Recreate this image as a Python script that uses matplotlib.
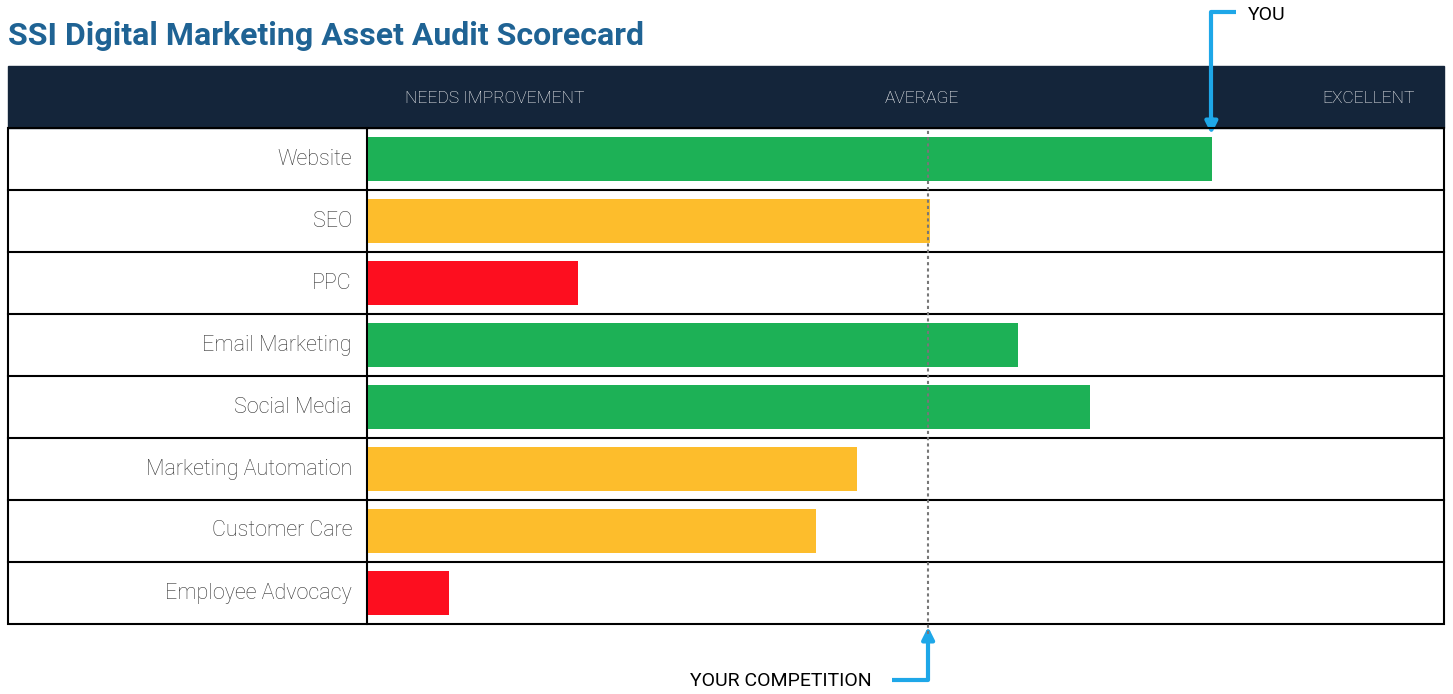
import matplotlib.pyplot as plt
from matplotlib.patches import Rectangle

categories = ["Website", "SEO", "PPC", "Email Marketing", "Social Media",
              "Marketing Automation", "Customer Care", "Employee Advocacy"]
scores = [78.4, 52.2, 19.5, 60.3, 67.0, 45.4, 41.6, 7.5]
average = 52.1
header_labels = ["NEEDS IMPROVEMENT", "AVERAGE", "EXCELLENT"]

GREEN, YELLOW, RED = "#1db156", "#fdbd2c", "#fd0e1f"
BLUE = "#1ea7e8"
NAVY = "#14253a"

def bar_color(v):
    if v >= 55:
        return GREEN
    if v >= 30:
        return YELLOW
    return RED

W, H = 1453, 694
fig = plt.figure(figsize=(W / 100, H / 100), dpi=100)
plt.rcParams["font.family"] = "Roboto"

# overlay in pixel coords for the table frame and annotations
ov = fig.add_axes([0, 0, 1, 1])
ov.set_xlim(0, W)
ov.set_ylim(H, 0)
ov.axis("off")

L, R, T, HB, B, DIV = 8, 1444, 66, 128, 624, 367
row_h = (B - HB) / len(categories)

ov.add_patch(Rectangle((L, T), R - L, HB - T, color=NAVY, zorder=1))
ov.add_patch(Rectangle((L, HB), R - L, B - HB, fill=False, ec="black", lw=1.5, zorder=5))
ov.plot([DIV, DIV], [HB, B], color="black", lw=1.5, zorder=5)
for i, cat in enumerate(categories):
    y = HB + row_h * (i + 0.5)
    ov.text(352, y, cat, ha="right", va="center", fontsize=15.5,
            fontweight="light", color="#333333")
    if i > 0:
        ov.plot([L, R], [HB + row_h * i] * 2, color="black", lw=1.5, zorder=5)

ov.text(8, 36, "SSI Digital Marketing Asset Audit Scorecard", fontsize=23,
        fontweight="bold", color="#1f6394", va="center", ha="left")

hx = [495, 922, 1368]
for x, lab in zip(hx, header_labels):
    ov.text(x, 98, lab, color="white", fontsize=12.5, ha="center", va="center",
            fontweight="light")

def to_px(v):
    return DIV + v / 100 * (R - DIV)

# YOU marker
yx = to_px(scores[0])
ov.plot([1236, yx, yx], [12, 12, 120], color=BLUE, lw=3, solid_capstyle="butt")
ov.annotate("", xy=(yx, 137), xytext=(yx, 115),
            arrowprops=dict(arrowstyle="-|>", color=BLUE, lw=3, mutation_scale=18))
ov.text(1248, 15, "YOU", fontsize=14, va="center", ha="left")

# competition marker
ax_ = to_px(average)
ov.plot([892, ax_, ax_], [680, 680, 640], color=BLUE, lw=3, solid_capstyle="butt")
ov.annotate("", xy=(ax_, 624), xytext=(ax_, 645),
            arrowprops=dict(arrowstyle="-|>", color=BLUE, lw=3, mutation_scale=18))
ov.text(872, 681, "YOUR COMPETITION", fontsize=14, va="center", ha="right")

# bars
ax = fig.add_axes([DIV / W, 1 - B / H, (R - DIV) / W, (B - HB) / H])
ax.patch.set_alpha(0)
ypos = list(range(len(categories)))
ax.barh(ypos, scores, height=0.7, color=[bar_color(v) for v in scores], left=0.1)
ax.axvline(average, ymin=-0.02, ymax=1, color="#777777", ls=(0, (1.5, 1.5)), lw=1.5,
           clip_on=False)
ax.set_xlim(0, 100)
ax.set_ylim(len(categories) - 0.5, -0.5)
ax.axis("off")
fig.savefig("out.png", dpi=100)
